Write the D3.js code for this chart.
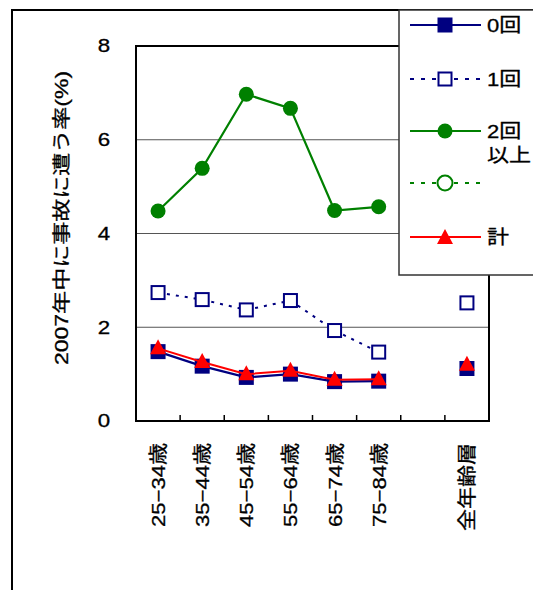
<!DOCTYPE html>
<html><head><meta charset="utf-8">
<script src="https://cdn.jsdelivr.net/npm/d3@7"></script>
<style>
body{margin:0;background:#fff;}
svg{display:block;font-family:"Liberation Sans","Noto Sans CJK JP",Arial,sans-serif;}
svg text{fill:#000;stroke:#000;stroke-width:0.3px;}
</style></head>
<body>
<script>
const categories = ["25−34歳","35−44歳","45−54歳","55−64歳","65−74歳","75−84歳","","全年齢層"];
const zero = [1.48,1.17,0.93,1.00,0.84,0.85];
const zeroAll = 1.12;
const once = [2.74,2.59,2.37,2.57,1.93,1.47];
const onceAll = 2.52;
const twoPlus = [4.48,5.39,6.97,6.67,4.49,4.57];
const total = [1.55,1.26,1.00,1.07,0.88,0.89];
const totalAll = 1.20;
const yTicks = [0,2,4,6,8];
const legendLabels = ["0回","1回","2回|以上","","計"];
const yTitle = "2007年中に事故に遭う率(%)";

const W=533,H=590;
const svg=d3.select("body").append("svg").attr("width",W).attr("height",H);
// outer border
svg.append("rect").attr("x",12).attr("y",10).attr("width",W).attr("height",H).attr("fill","#fff").attr("stroke","#000").attr("stroke-width",2);

const m={l:136,t:46,r:489,b:421};
const x=d3.scaleBand().domain(categories.map((c,i)=>i)).range([m.l,m.r]);
const cx=i=>x(i)+x.bandwidth()/2;
const y=d3.scaleLinear().domain([0,8]).range([m.b,m.t]);

// gridlines
svg.append("g").selectAll("line").data(yTicks.filter(v=>v>0&&v<8)).join("line")
  .attr("x1",m.l).attr("x2",m.r).attr("y1",d=>y(d)).attr("y2",d=>y(d))
  .attr("stroke","#555").attr("stroke-width",1.2);

// y axis labels (stretched horizontally like the original)
const ya=svg.append("g").attr("transform",`translate(${m.l},0)`)
  .call(d3.axisLeft(y).tickValues(yTicks).tickSize(0).tickPadding(0));
ya.select(".domain").remove();
ya.selectAll(".tick text").attr("font-size",18)
  .attr("text-anchor","middle").attr("x",null)
  .attr("transform","translate(-32,0) scale(1.24,1)");

// x tick marks (inner)
svg.append("g").selectAll("line").data(d3.range(1,categories.length)).join("line")
  .attr("x1",i=>x(i)).attr("x2",i=>x(i)).attr("y1",m.b).attr("y2",m.b-6)
  .attr("stroke","#000").attr("stroke-width",1.5);

// plot frame
svg.append("rect").attr("x",m.l).attr("y",m.t).attr("width",m.r-m.l).attr("height",m.b-m.t)
  .attr("fill","none").attr("stroke","#000").attr("stroke-width",2);

// x labels
svg.append("g").selectAll("text").data(categories).join("text")
  .attr("transform",(d,i)=>`translate(${cx(i)+7},443) rotate(-90) scale(1.16,1)`)
  .attr("text-anchor","end").attr("font-size",19).text(d=>d);

// y title
svg.append("text").attr("transform","translate(68,218) rotate(-90) scale(1.28,1)")
  .attr("text-anchor","middle").attr("font-size",18).text(yTitle);

const line=d3.line().x((d,i)=>cx(i)).y(d=>y(d));
const navy="#000080",green="#008000",red="#ff0000";

function sq(g,px,py,filled,color){
  g.append("rect").attr("x",px-6.5).attr("y",py-6.5).attr("width",13).attr("height",13)
   .attr("fill",filled?color:"#fff").attr("stroke",color).attr("stroke-width",2);
}
function circ(g,px,py,filled,color){
  g.append("circle").attr("cx",px).attr("cy",py).attr("r",7.5)
   .attr("fill",filled?color:"#fff").attr("stroke",color).attr("stroke-width",filled?0:2);
}
function tri(g,px,py,color){
  g.append("path").attr("d",`M${px},${py-9}L${px+8},${py+6}L${px-8},${py+6}Z`).attr("fill",color);
}

const g=svg.append("g");
// 1回 dotted
g.append("path").attr("d",line(once)).attr("fill","none").attr("stroke",navy).attr("stroke-width",2).attr("stroke-dasharray","3,6");
once.forEach((v,i)=>sq(g,cx(i),y(v),false,navy));
sq(g,cx(7),y(onceAll),false,navy);
// 2回以上
g.append("path").attr("d",line(twoPlus)).attr("fill","none").attr("stroke",green).attr("stroke-width",2.2);
twoPlus.forEach((v,i)=>circ(g,cx(i),y(v),true,green));
// 0回
g.append("path").attr("d",line(zero)).attr("fill","none").attr("stroke",navy).attr("stroke-width",2.2);
zero.forEach((v,i)=>sq(g,cx(i),y(v),true,navy));
sq(g,cx(7),y(zeroAll),true,navy);
// 計
g.append("path").attr("d",line(total)).attr("fill","none").attr("stroke",red).attr("stroke-width",2);
total.forEach((v,i)=>tri(g,cx(i),y(v),red));
tri(g,cx(7),y(totalAll),red);

// legend
const lg=svg.append("g");
lg.append("rect").attr("x",399).attr("y",10).attr("width",200).attr("height",265)
  .attr("fill","#fff").attr("stroke","#333").attr("stroke-width",1.5);
const rows=[25,79,131,183,237];
const lx1=410,lx2=481,lmx=445;
const styles=[
  {c:navy,dash:null,mk:"sq",f:true},
  {c:navy,dash:"4,7",mk:"sq",f:false},
  {c:green,dash:null,mk:"ci",f:true},
  {c:green,dash:"4,7",mk:"ci",f:false},
  {c:red,dash:null,mk:"tri",f:true}
];
styles.forEach((s,k)=>{
  const ry=rows[k];
  const l=lg.append("line").attr("x1",lx1).attr("x2",lx2).attr("y1",ry).attr("y2",ry)
    .attr("stroke",s.c).attr("stroke-width",2);
  if(s.dash) l.attr("stroke-dasharray",s.dash);
  if(s.mk==="sq") sq(lg,lmx,ry,s.f,s.c);
  else if(s.mk==="ci") circ(lg,lmx,ry,s.f,s.c);
  else tri(lg,lmx,ry+1,s.c);
  const parts=legendLabels[k].split("|");
  parts.forEach((p,j)=>{
    lg.append("text").attr("transform",`translate(487,${ry+7+j*24}) scale(1.16,1)`)
      .attr("font-size",19).text(p);
  });
});
</script>
</body></html>
